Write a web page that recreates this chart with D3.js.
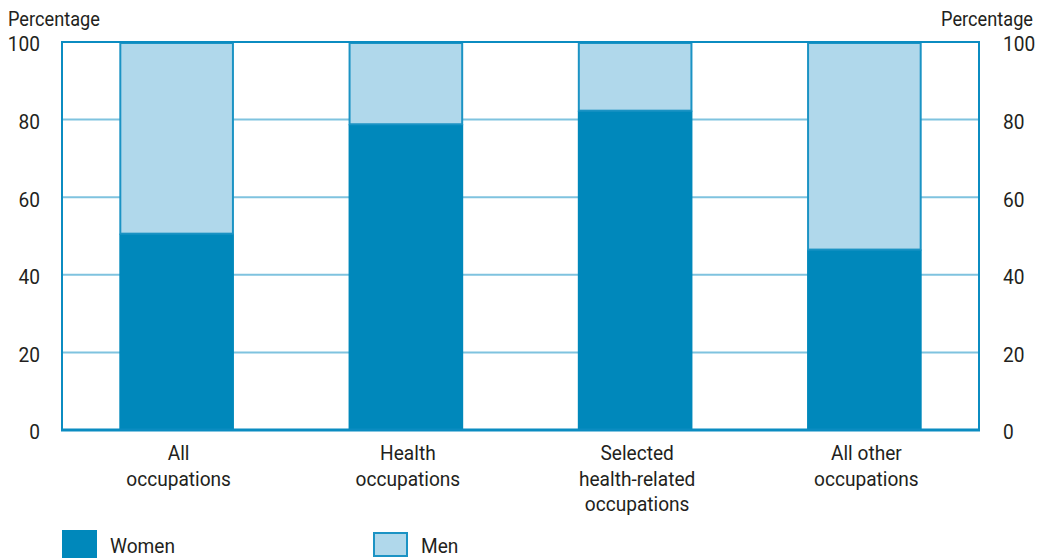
<!DOCTYPE html>
<html>
<head>
<meta charset="utf-8">
<script src="https://cdn.jsdelivr.net/npm/d3@7"></script>
<style>
  html, body { margin: 0; padding: 0; background: #fff; }
  svg { display: block; }
  text { font-family: "Roboto", "Liberation Sans", sans-serif; fill: #231f20; }
</style>
</head>
<body>
<svg id="chart" width="1037" height="559"></svg>
<script>
// Share of women and men by occupation group (percent)
const categories = [
  ["All", "occupations"],
  ["Health", "occupations"],
  ["Selected", "health-related", "occupations"],
  ["All other", "occupations"]
];
const women = [50.6, 78.8, 82.3, 46.5];
const men = women.map(v => 100 - v);
const yTicks = [0, 20, 40, 60, 80, 100];
const seriesNames = ["Women", "Men"];

const colors = { Women: "#0088bb", Men: "#b0d8eb" };
const frameColor = "#0b8cc1";
const gridColor = "#7fc3df";
const narrow = 0.91; // horizontal squeeze for a condensed look

const svg = d3.select("#chart");
const plotLeft = 62, plotRight = 979, plotTop = 42, plotBottom = 430;

const x = d3.scaleBand()
  .domain(d3.range(categories.length))
  .range([plotLeft, plotRight])
  .paddingInner(0.5)
  .paddingOuter(0.25);

const y = d3.scaleLinear().domain([0, 100]).range([plotBottom, plotTop]);

// condensed text helper: places text at (tx, ty) squeezed horizontally
function label(parent, tx, ty, str, size, anchor) {
  return parent.append("text")
    .attr("transform", `translate(${tx},${ty}) scale(${narrow},1)`)
    .attr("font-size", size)
    .attr("text-anchor", anchor || "start")
    .text(str);
}

// horizontal gridlines
svg.append("g")
  .selectAll("line")
  .data(yTicks.filter(t => t > 0 && t < 100))
  .join("line")
  .attr("x1", plotLeft).attr("x2", plotRight)
  .attr("y1", d => y(d)).attr("y2", d => y(d))
  .attr("stroke", gridColor)
  .attr("stroke-width", 2);

// stacked bars
const stackData = categories.map((c, i) => ({ i, Women: women[i], Men: men[i] }));
const stacked = d3.stack().keys(seriesNames)(stackData);

svg.append("g")
  .selectAll("g")
  .data(stacked)
  .join("g")
  .each(function (layer) {
    const isMen = layer.key === "Men";
    d3.select(this).selectAll("rect")
      .data(layer)
      .join("rect")
      .attr("x", d => x(d.data.i) + (isMen ? 1 : 0))
      .attr("width", x.bandwidth() - (isMen ? 2 : 0))
      .attr("y", d => y(d[1]) + (isMen ? 1 : 0))
      .attr("height", d => y(d[0]) - y(d[1]) - (isMen ? 1 : 0))
      .attr("fill", colors[layer.key])
      .attr("stroke", isMen ? "#1b93c4" : "none")
      .attr("stroke-width", isMen ? 2 : 0);
  });

// plot frame: left, top, right
svg.append("path")
  .attr("d", `M${plotLeft},${plotBottom} V${plotTop} H${plotRight} V${plotBottom}`)
  .attr("fill", "none")
  .attr("stroke", frameColor)
  .attr("stroke-width", 2);

// baseline
svg.append("line")
  .attr("x1", plotLeft - 1).attr("x2", plotRight + 1)
  .attr("y1", plotBottom).attr("y2", plotBottom)
  .attr("stroke", frameColor)
  .attr("stroke-width", 3);

// left and right value axes
const leftAxis = d3.axisLeft(y).tickValues(yTicks).tickSize(0).tickPadding(22);
const rightAxis = d3.axisRight(y).tickValues(yTicks).tickSize(0).tickPadding(24);

const gl = svg.append("g").attr("transform", `translate(${plotLeft},0)`).call(leftAxis);
const gr = svg.append("g").attr("transform", `translate(${plotRight},0)`).call(rightAxis);
[gl, gr].forEach(g => {
  g.attr("font-family", null).attr("font-size", null);
  g.select(".domain").remove();
  g.selectAll("text")
    .attr("font-size", 21)
    .attr("fill", "#231f20")
    .attr("dy", "0.42em")
    .each(function () {
      const t = d3.select(this);
      const px = +t.attr("x");
      t.attr("x", px / narrow).attr("transform", `scale(${narrow},1)`);
    });
});

// axis titles
label(svg, 8, 26, "Percentage", 20);
label(svg, 1033, 26, "Percentage", 20, "end");

// category labels
categories.forEach((lines, i) => {
  const cx = x(i) + x.bandwidth() / 2 + 2;
  lines.forEach((l, k) => label(svg, cx, 460 + k * 25.5, l, 21, "middle"));
});

// legend
const legend = [
  { name: "Women", x: 62 },
  { name: "Men", x: 373 }
];
legend.forEach(d => {
  const isMen = d.name === "Men";
  svg.append("rect")
    .attr("x", d.x + (isMen ? 1 : 0))
    .attr("y", isMen ? 533 : 530)
    .attr("width", isMen ? 33 : 35)
    .attr("height", isMen ? 23 : 28)
    .attr("fill", colors[d.name])
    .attr("stroke", isMen ? "#1b93c4" : "none")
    .attr("stroke-width", 2);
  label(svg, d.x + 48, 553, d.name, 21);
});
</script>
</body>
</html>
